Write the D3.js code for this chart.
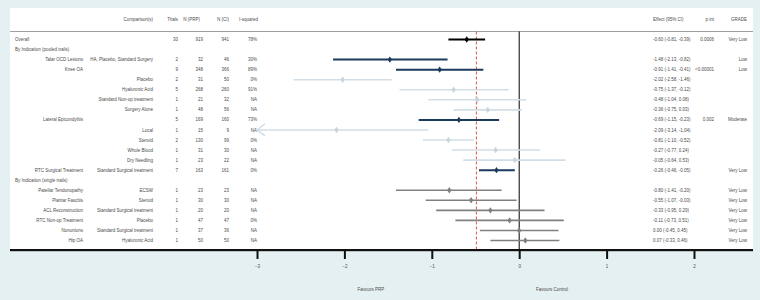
<!DOCTYPE html>
<html>
<head>
<meta charset="utf-8">
<script src="https://cdn.jsdelivr.net/npm/d3@7"></script>
<style>
body{margin:0;background:#e5f0f2;}
svg{display:block;font-family:"Liberation Sans",Arial,sans-serif;}
</style>
</head>
<body>
<div id="chart"></div>
<script>
// row data, top to bottom
var indications = ["Overall","By Indication (pooled trails)","Talar OCD Lesions","Knee OA","","","","","Lateral Epicondylitis","","","","","RTC Surgical Treatment","By Indication (single trails)","Patellar Tendonopathy","Plantar Fascitis","ACL Reconstruction","RTC Non-op Treatment","Nonunions","Hip OA"];
var comparisons = ["","","HA, Placebo, Standard Surgery","","Placebo","Hyaluronic Acid","Standard Non-op treatment","Surgery Alone","","Local","Steroid","Whole Blood","Dry Needling","Standard Surgical treatment","","ECSW","Steroid","Standard Surgical treatment","Placebo","Standard Surgical treatment","Hyaluronic Acid"];
var rowTypes = ["overall","section","pooled","pooled","sub","sub","sub","sub","pooled","sub","sub","sub","sub","pooled","section","single","single","single","single","single","single"];
var trials = ["30","","2","9","2","5","1","1","5","1","2","1","1","7","","1","1","1","1","1","1"];
var nPRP = ["919","","32","348","31","268","21","48","169","15","130","31","23","163","","23","30","20","47","37","50"];
var nCI = ["941","","46","366","50","260","32","56","160","9","99","30","22","161","","23","30","20","47","36","50"];
var iSquared = ["78%","","30%","89%","0%","91%","NA","NA","73%","NA","0%","NA","NA","0%","","NA","NA","NA","0%","NA","NA"];
var effects = [-0.60,null,-1.48,-0.91,-2.02,-0.75,-0.48,-0.36,-0.69,-2.09,-0.81,-0.27,-0.05,-0.26,null,-0.80,-0.55,-0.33,-0.11,0.00,0.07];
var lowers = [-0.81,null,-2.13,-1.41,-2.58,-1.37,-1.04,-0.75,-1.15,-3.14,-1.10,-0.77,-0.64,-0.46,null,-1.41,-1.07,-0.95,-0.73,-0.45,-0.33];
var uppers = [-0.39,null,-0.82,-0.41,-1.46,-0.12,0.08,0.03,-0.23,-1.04,-0.52,0.24,0.53,-0.05,null,-0.20,-0.03,0.29,0.51,0.45,0.46];
var pInt = ["0.0006","","","<0.00001","","","","","0.002","","","","","","","","","","","",""];
var grades = ["Very Low","","Low","Low","","","","","Moderate","","","","","Very Low","","Very Low","Very Low","Very Low","Very Low","Very Low","Very Low"];
var tickValues = [-3,-2,-1,0,1,2];
var refValue = -0.49;

var w = 760, h = 300;
var fs = 4.5;
var txtColor = "#4a4a4a";
var colorScale = d3.scaleOrdinal().domain(["overall","pooled","sub","single"]).range(["#000000","#1b3a5c","#d2dee6","#808080"]);
var widthScale = d3.scaleOrdinal().domain(["overall","pooled","sub","single"]).range([2,2,1.6,1.6]);

var xScale = d3.scaleLinear().domain([-3,2]).range([257,694]);
var yScale = d3.scaleLinear().domain([0,20]).range([39.5,240.5]);

var svg = d3.select("#chart").append("svg").attr("width",w).attr("height",h);

svg.append("rect").attr("x",10).attr("y",8).attr("width",743).attr("height",242).attr("fill","#ffffff");

// header
var headers = [
    {t:"Comparison(s)",x:153,a:"end"},
    {t:"Trials",x:178,a:"end"},
    {t:"N (PRP)",x:200,a:"end"},
    {t:"N (CI)",x:229,a:"end"},
    {t:"I-squared",x:258,a:"end"},
    {t:"Effect (95% CI)",x:653,a:"start"},
    {t:"p int",x:714,a:"end"},
    {t:"GRADE",x:747,a:"end"}
];
svg.append("g").selectAll("text").data(headers).enter().append("text")
    .attr("x",function(d){ return d.x;})
    .attr("y",19)
    .attr("dy","0.35em")
    .attr("text-anchor",function(d){ return d.a;})
    .attr("font-size",fs)
    .attr("fill",txtColor)
    .text(function(d){ return d.t;});

svg.append("line").attr("x1",10).attr("x2",753).attr("y1",31.5).attr("y2",31.5)
    .attr("stroke","#a0a0a0").attr("stroke-width",1);

// reference lines
svg.append("line").attr("x1",xScale(0)).attr("x2",xScale(0)).attr("y1",31.5).attr("y2",250)
    .attr("stroke","#000").attr("stroke-width",1);
svg.append("line").attr("x1",xScale(refValue)).attr("x2",xScale(refValue)).attr("y1",31.5).attr("y2",250)
    .attr("stroke","#e0523f").attr("stroke-width",1).attr("stroke-dasharray","3,2");

// table text
var rows = d3.range(indications.length);
var tbl = svg.append("g").attr("font-size",fs).attr("fill",txtColor);
function col(arr,x,anchor){
    tbl.append("g").selectAll("text").data(rows.filter(function(i){ return arr[i] !== "";})).enter().append("text")
        .attr("x",function(i){
            if(arr === indications && (rowTypes[i] == "overall" || rowTypes[i] == "section")) return 15;
            return x;
        })
        .attr("y",function(i){ return yScale(i);})
        .attr("dy","0.35em")
        .attr("text-anchor",function(i){
            if(arr === indications && (rowTypes[i] == "overall" || rowTypes[i] == "section")) return "start";
            return anchor;
        })
        .text(function(i){ return arr[i];});
}
col(indications,83,"end");
col(comparisons,153,"end");
col(trials,178,"end");
col(nPRP,203,"end");
col(nCI,229,"end");
col(iSquared,257,"end");
col(pInt,714,"end");
col(grades,747,"end");
var effTxt = rows.map(function(i){
    if(effects[i] === null) return "";
    return effects[i].toFixed(2)+" ("+lowers[i].toFixed(2)+", "+uppers[i].toFixed(2)+")";
});
col(effTxt,653,"start");

// CI lines and diamonds
var pts = rows.filter(function(i){ return effects[i] !== null;});
var xMin = xScale.domain()[0];
var marks = svg.append("g");
marks.selectAll("line").data(pts).enter().append("line")
    .attr("x1",function(i){ return xScale(Math.max(lowers[i],xMin));})
    .attr("x2",function(i){ return xScale(uppers[i]);})
    .attr("y1",function(i){ return yScale(i);})
    .attr("y2",function(i){ return yScale(i);})
    .attr("stroke",function(i){ return colorScale(rowTypes[i]);})
    .attr("stroke-width",function(i){ return widthScale(rowTypes[i]);});

// arrow for clipped intervals
marks.selectAll("path.arrow").data(pts.filter(function(i){ return lowers[i] < xMin;})).enter().append("path")
    .attr("class","arrow")
    .attr("d",function(i){
        var x0 = xScale(xMin), y0 = yScale(i);
        return "M"+(x0+8)+","+(y0-6)+"L"+x0+","+y0+"L"+(x0+8)+","+(y0+6);
    })
    .attr("fill","none")
    .attr("stroke",function(i){ return colorScale(rowTypes[i]);})
    .attr("stroke-width",1.5);

marks.selectAll("path.dia").data(pts).enter().append("path")
    .attr("class","dia")
    .attr("d",function(i){
        var x0 = xScale(effects[i]), y0 = yScale(i);
        return "M"+x0+","+(y0-3.2)+"L"+(x0+2.2)+","+y0+"L"+x0+","+(y0+3.2)+"L"+(x0-2.2)+","+y0+"Z";
    })
    .attr("fill",function(i){ return rowTypes[i] == "sub" ? "#c6d5de" : colorScale(rowTypes[i]);});

// bottom axis
svg.append("line").attr("x1",10).attr("x2",753).attr("y1",251.5).attr("y2",251.5)
    .attr("stroke","#b8c2c4").attr("stroke-width",1);
svg.append("line").attr("x1",10).attr("x2",753).attr("y1",250).attr("y2",250)
    .attr("stroke","#111").attr("stroke-width",2);

var xAxis = d3.axisBottom(xScale).tickValues(tickValues).tickSize(9).tickPadding(6).tickFormat(d3.format("d"));
var ax = svg.append("g").attr("transform","translate(0,250)").call(xAxis);
ax.select(".domain").remove();
ax.selectAll(".tick line").attr("stroke","#111").attr("stroke-width",2);
ax.selectAll(".tick text").attr("font-size",fs).attr("fill",txtColor).attr("font-family","Liberation Sans, Arial, sans-serif");

svg.append("text").attr("x",371).attr("y",289).attr("dy","0.35em").attr("text-anchor","middle")
    .attr("font-size",fs).attr("fill",txtColor).text("Favours PRP");
svg.append("text").attr("x",552).attr("y",289).attr("dy","0.35em").attr("text-anchor","middle")
    .attr("font-size",fs).attr("fill",txtColor).text("Favours Control");
</script>
</body>
</html>
